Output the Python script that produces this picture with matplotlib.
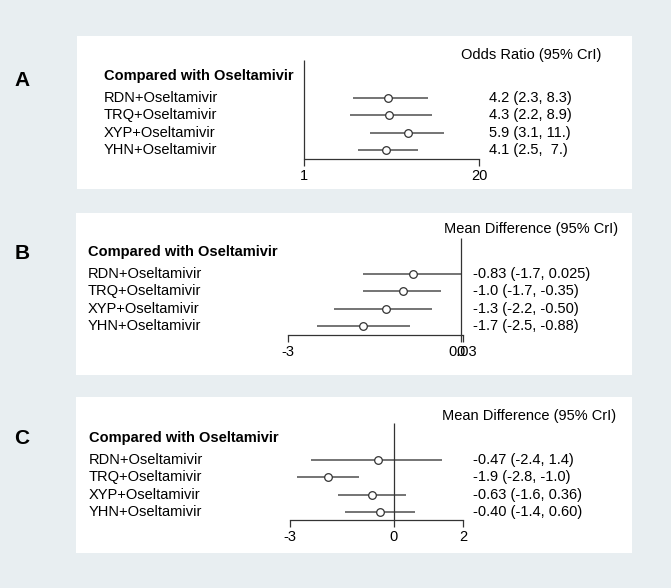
import math
import matplotlib
matplotlib.use("Agg")
import matplotlib.pyplot as plt
from matplotlib.patches import Rectangle

plt.rcParams['font.family'] = ['Liberation Sans', 'DejaVu Sans']

# data
labels = ['RDN+Oseltamivir', 'TRQ+Oseltamivir', 'XYP+Oseltamivir', 'YHN+Oseltamivir']

a_est = [4.2, 4.3, 5.9, 4.1]
a_lo = [2.3, 2.2, 3.1, 2.5]
a_hi = [8.3, 8.9, 11.0, 7.0]
a_txt = ['4.2 (2.3, 8.3)', '4.3 (2.2, 8.9)', '5.9 (3.1, 11.)', '4.1 (2.5,  7.)']
a_ticks = [1, 20]
a_ticklabels = ['1', '20']

b_est = [-0.83, -1.0, -1.3, -1.7]
b_lo = [-1.7, -1.7, -2.2, -2.5]
b_hi = [0.025, -0.35, -0.50, -0.88]
b_txt = ['-0.83 (-1.7, 0.025)', '-1.0 (-1.7, -0.35)', '-1.3 (-2.2, -0.50)', '-1.7 (-2.5, -0.88)']
b_ticks = [-3, 0, 0.03]
b_ticklabels = ['-3', '0', '0.03']

c_est = [-0.47, -1.9, -0.63, -0.40]
c_lo = [-2.4, -2.8, -1.6, -1.4]
c_hi = [1.4, -1.0, 0.36, 0.60]
c_txt = ['-0.47 (-2.4, 1.4)', '-1.9 (-2.8, -1.0)', '-0.63 (-1.6, 0.36)', '-0.40 (-1.4, 0.60)']
c_ticks = [-3, 0, 2]
c_ticklabels = ['-3', '0', '2']

W, H = 671, 588
BG = '#e8eef1'
FS = 10.5

fig = plt.figure(figsize=(W / 100, H / 100), dpi=100, facecolor=BG)


def fx(px):
    return px / W


def fy(py):
    return 1 - py / H


def panel(letter, title, est, lo, hi, txt, ticks, ticklabels, null, log,
          box, row0, letter_y, lab_x, val_x, title_x, title_y, vtop, axis_y, tick_px):
    step = 17.3
    # white panel
    bx0, by0, bx1, by1 = box
    fig.add_artist(Rectangle((fx(bx0), fy(by1)), (bx1 - bx0) / W, (by1 - by0) / H,
                             transform=fig.transFigure, facecolor='white',
                             edgecolor='none', zorder=-1))
    # x mapping from the two end ticks
    f = math.log if log else (lambda v: v)
    p0, p1 = tick_px
    k = (p1 - p0) / (f(ticks[-1]) - f(ticks[0]))
    axL, axR = bx0 + 5, bx1 - 5
    axT = vtop - 5
    ax = fig.add_axes([fx(axL), fy(axis_y), (axR - axL) / W, (axis_y - axT) / H])
    ax.set_facecolor('none')
    if log:
        ax.set_xscale('log')
        ax.set_xlim(math.exp(f(ticks[0]) + (axL - p0) / k), math.exp(f(ticks[0]) + (axR - p0) / k))
    else:
        ax.set_xlim(ticks[0] + (axL - p0) / k, ticks[0] + (axR - p0) / k)
    ax.set_ylim((axis_y - row0) / step, (axT - row0) / step)

    rows = list(range(len(est)))
    ax.hlines(rows, lo, hi, color='#555555', lw=1.15)
    ax.plot(est, rows, 'o', ms=5.5, mfc='white', mec='#333333', mew=0.9)
    ax.vlines(null, (axis_y - row0) / step, (vtop - row0) / step, color='#333333', lw=0.9)

    for s in ['top', 'right', 'left']:
        ax.spines[s].set_visible(False)
    ax.spines['bottom'].set_bounds(ticks[0], ticks[-1])
    ax.spines['bottom'].set_color('#333333')
    ax.spines['bottom'].set_linewidth(0.9)
    ax.set_yticks([])
    ax.minorticks_off()
    ax.set_xticks(ticks)
    ax.set_xticklabels(ticklabels)
    ax.tick_params(axis='x', direction='out', length=5, width=0.9, color='#333333',
                   labelsize=FS, pad=2, which='both')
    ax.tick_params(axis='x', which='minor', length=0)

    fig.text(fx(22), fy(letter_y), letter, fontsize=15, fontweight='bold',
             ha='center', va='center')
    fig.text(fx(lab_x), fy(row0 - 1.3 * step), 'Compared with Oseltamivir',
             fontsize=FS, fontweight='bold', ha='left', va='center')
    fig.text(fx(title_x), fy(title_y), title, fontsize=FS, ha='left', va='center')
    for i in rows:
        fig.text(fx(lab_x), fy(row0 + i * step), labels[i], fontsize=FS, ha='left', va='center')
        fig.text(fx(val_x), fy(row0 + i * step), txt[i], fontsize=FS, ha='left', va='center')


panel('A', 'Odds Ratio (95% CrI)', a_est, a_lo, a_hi, a_txt, a_ticks, a_ticklabels, 1, True,
      (77, 36, 632, 189), 98, 80, 104, 489, 461, 55, 60, 159, (304, 479))
panel('B', 'Mean Difference (95% CrI)', b_est, b_lo, b_hi, b_txt, b_ticks, b_ticklabels, 0, False,
      (76, 213, 632, 375), 274, 254, 88, 473, 444, 229, 238, 335, (288, 462.7))
panel('C', 'Mean Difference (95% CrI)', c_est, c_lo, c_hi, c_txt, c_ticks, c_ticklabels, 0, False,
      (76, 397, 632, 553), 460, 439, 89, 473, 442, 416, 423, 520, (290, 463))

fig.savefig('out.png', dpi=100, facecolor=BG)
